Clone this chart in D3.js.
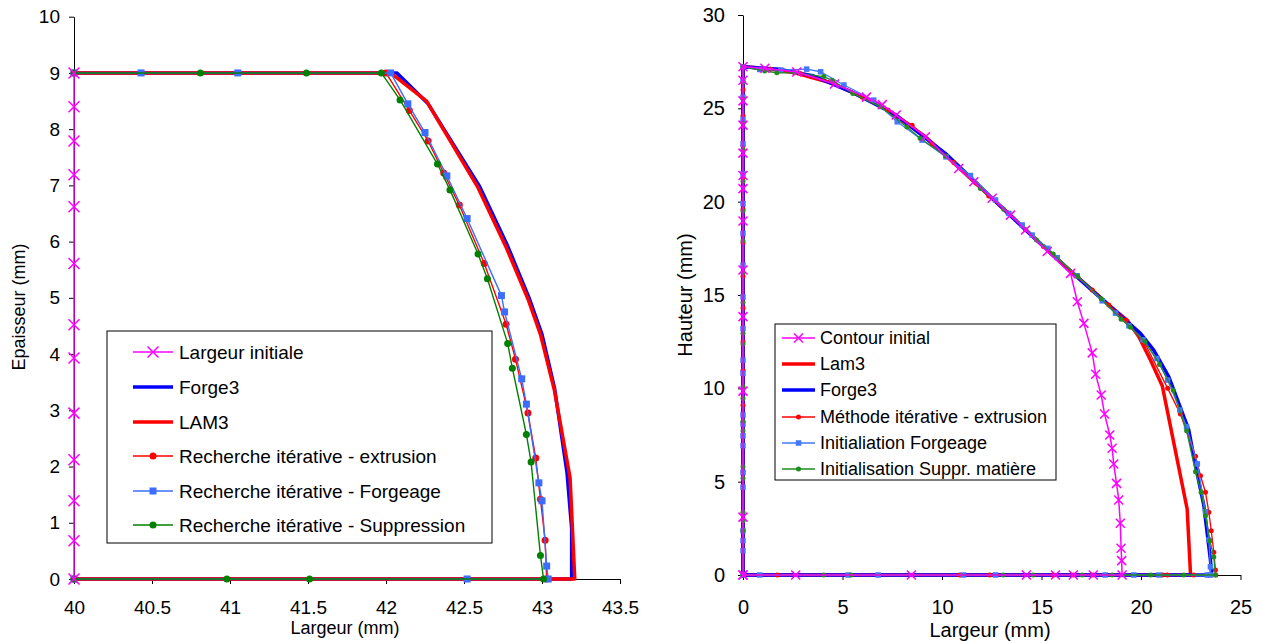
<!DOCTYPE html>
<html>
<head>
<meta charset="utf-8">
<script src="https://cdn.jsdelivr.net/npm/d3@7"></script>
<style>
  body { margin: 0; background: #fff; }
  svg { display: block; }
  text { font-family: "Liberation Sans", Arial, sans-serif; fill: #000; }
</style>
</head>
<body>
<script>
// ---------- left chart : Epaisseur vs Largeur ----------
const leftXTicks = [40, 40.5, 41, 41.5, 42, 42.5, 43, 43.5];
const leftYTicks = [0, 1, 2, 3, 4, 5, 6, 7, 8, 9, 10];

const leftInitial = [[40, 0], [40, 0.68], [40, 1.39], [40, 2.12], [40, 2.95], [40, 3.93], [40, 4.52],
  [40, 5.61], [40, 6.62], [40, 7.19], [40, 7.79], [40, 8.4], [40, 9]];

const leftForge3 = [[40, 9], [42.07, 9], [42.27, 8.45], [42.6, 6.98], [42.78, 5.92], [42.92, 4.98],
  [43.0, 4.35], [43.08, 3.4], [43.16, 1.9], [43.19, 0.9], [43.19, 0], [40, 0]];

const leftLam3 = [[40, 9], [42.03, 9], [42.26, 8.5], [42.59, 6.96], [42.77, 5.9], [42.91, 4.98],
  [42.99, 4.35], [43.08, 3.35], [43.18, 1.8], [43.21, 0], [40, 0]];

const leftExtrusion = [[40, 9], [42.0, 9], [42.15, 8.33], [42.27, 7.79],
  [42.37, 7.22], [42.47, 6.65], [42.63, 5.61], [42.77, 4.53], [42.83, 3.91], [42.91, 2.95],
  [42.96, 2.15], [42.99, 1.42], [43.02, 0.69], [43.03, 0], [40, 0]];

const leftForgeage = [[40, 9], [40.43, 9], [41.05, 9], [42.03, 9], [42.14, 8.45], [42.25, 7.94],
  [42.39, 7.17], [42.52, 6.41], [42.74, 5.04], [42.76, 4.75], [42.87, 3.56], [42.9, 3.11],
  [42.98, 1.71], [43.0, 1.39], [43.03, 0.23], [43.04, 0], [42.52, 0], [40, 0]];

const leftSuppression = [[40, 9], [40.81, 9], [41.49, 9], [41.97, 9], [42.09, 8.52], [42.33, 7.38],
  [42.41, 6.92], [42.59, 5.78], [42.65, 5.34], [42.78, 4.19], [42.81, 3.75], [42.9, 2.57],
  [42.93, 2.08], [42.99, 0.42], [43.01, 0], [41.51, 0], [40.98, 0], [40, 0]];

const leftNames = ["Largeur initiale", "Forge3", "LAM3", "Recherche itérative - extrusion",
  "Recherche itérative - Forgeage", "Recherche itérative - Suppression"];

// ---------- right chart : Hauteur vs Largeur ----------
const rightXTicks = [0, 5, 10, 15, 20, 25];
const rightYTicks = [0, 5, 10, 15, 20, 25, 30];

const rightInitial = [[0, 0], [0, 3.1], [0, 9.85], [0, 13.84], [0, 16.34], [0, 18.96], [0, 20.7],
  [0, 21.4], [0, 22.6], [0, 24.1], [0, 25.4], [0, 26.5], [0, 27.23],
  [1.1, 27.15], [2.7, 26.95], [4.6, 26.3], [6.2, 25.6], [7.0, 25.2], [7.7, 24.64], [9.17, 23.48],
  [10.84, 21.78], [11.6, 21.07], [12.52, 20.18], [13.44, 19.28], [14.2, 18.48], [15.29, 17.33],
  [16.46, 16.16], [16.8, 14.64], [17.13, 13.48], [17.55, 11.9], [17.72, 10.75], [18.0, 9.64],
  [18.17, 8.62], [18.43, 7.5], [18.55, 6.79], [18.63, 5.95], [18.77, 4.91], [18.88, 4.02],
  [18.96, 2.77], [19.0, 1.43], [19.03, 0.77], [19.05, 0],
  [17.6, 0], [16.6, 0], [15.7, 0], [14.24, 0], [8.46, 0], [2.65, 0], [0, 0]];

const rightLam3 = [[0, 0], [0, 27.23], [1.1, 27.14], [2.6, 26.9], [4.5, 26.34], [6.85, 25.2],
  [9.17, 23.48], [11.6, 21.07], [13.44, 19.28], [15.29, 17.41], [17.55, 15.27], [18.38, 14.46],
  [19.3, 13.66], [19.89, 12.76], [20.48, 11.5], [21.07, 10.13], [22.32, 3.53], [22.49, 0], [0, 0]];

const rightForge3 = [[0, 0], [0, 27.23], [1.8, 27.1], [3.5, 26.75], [5.5, 25.85], [7.7, 24.64],
  [10.26, 22.5], [12.52, 20.18], [14.2, 18.48], [16.54, 16.19], [18.38, 14.46], [19.97, 12.95],
  [20.64, 12.05], [21.4, 10.62], [22.4, 7.77], [22.74, 5.85], [23.16, 3.71], [23.49, 0.8],
  [23.55, 0], [0, 0]];

const rightExtrusion = [[0, 0], [0, 5.53], [0, 9.1], [0, 10.95], [0, 12.5], [0, 14.3], [0, 16.0],
  [0, 17.8], [0, 19.6], [0, 21.3], [0, 23.0], [0, 24.6], [0, 26.0], [0, 27.23],
  [1.38, 27.1], [2.9, 26.85], [4.52, 26.4], [6.0, 25.6], [7.3, 24.9], [8.5, 24.1], [9.5, 23.1],
  [10.6, 22.1], [11.7, 21.0], [12.35, 20.3], [13.3, 19.4], [14.2, 18.5], [15.1, 17.6],
  [16.54, 16.19], [17.55, 15.27], [18.38, 14.46], [19.25, 13.63], [20.2, 12.4], [21.34, 10.0],
  [21.98, 8.62], [22.74, 6.36], [22.99, 5.32], [23.24, 4.43], [23.41, 3.36], [23.53, 2.37],
  [23.66, 1.22], [23.74, 0.27], [23.76, 0],
  [22.65, 0], [21.32, 0], [21.07, 0], [17.6, 0], [16.6, 0], [15.6, 0], [12.4, 0], [10.9, 0],
  [1.73, 0], [0, 0]];

const rightForgeage = [[0, 0], [0, 1.3], [0, 1.84], [0, 2.37], [0, 4.7], [0, 5.5], [0, 6.93],
  [0, 7.46], [0, 8.09], [0, 8.57], [0, 10.8], [0, 11.51], [0, 13.2], [0, 14.9], [0, 16.6],
  [0, 18.3], [0, 19.9], [0, 21.5], [0, 23.1], [0, 24.4], [0, 25.6], [0, 26.5], [0, 27.23],
  [0.84, 27.08], [1.9, 27.05], [3.2, 27.1], [3.9, 26.96], [5.07, 26.25], [6.57, 25.44],
  [7.75, 24.28], [9.0, 23.3], [10.2, 22.4], [11.43, 21.4], [12.69, 20.09], [13.36, 19.37],
  [14.03, 18.75], [14.53, 18.21], [15.32, 17.5], [15.79, 17.0], [16.79, 16.03], [18.05, 14.69],
  [18.72, 14.03], [19.39, 13.35], [20.1, 12.6], [20.8, 11.6], [21.34, 10.44], [21.95, 8.84],
  [22.29, 7.95], [22.83, 5.95], [23.24, 3.39], [23.41, 1.87], [23.49, 0.44], [23.5, 0],
  [23.33, 0], [20.9, 0], [19.64, 0], [18.2, 0], [12.69, 0], [11.07, 0], [6.79, 0], [5.28, 0],
  [0.84, 0], [0, 0]];

const rightSuppression = [[0, 0], [0, 2.37], [0, 2.91], [0, 3.36], [0, 5.18], [0, 5.8], [0, 7.73],
  [0, 8.24], [0, 9.46], [0, 10.08], [0, 12.37], [0, 12.95], [0, 14.6], [0, 16.2], [0, 17.9],
  [0, 19.5], [0, 21.1], [0, 22.8], [0, 24.2], [0, 25.5], [0, 26.4], [0, 27.23],
  [1.09, 27.0], [1.7, 26.9], [2.6, 26.9], [4.06, 26.7], [4.48, 26.5], [5.52, 25.8], [6.9, 25.08],
  [8.24, 24.0], [8.9, 23.4], [10.18, 22.45], [11.93, 20.7], [13.1, 19.6], [14.75, 17.95],
  [15.59, 17.2], [16.82, 16.0], [18.0, 14.8], [19.0, 13.7], [19.47, 13.27], [20.2, 12.5],
  [20.93, 11.28], [21.62, 9.9], [22.29, 7.73], [22.74, 5.53], [23.02, 4.43], [23.24, 3.18],
  [23.46, 1.84], [23.66, 0.96], [23.74, 0],
  [22.15, 0], [20.48, 0], [18.55, 0], [17.05, 0], [14.59, 0], [13.08, 0], [5.44, 0], [4.06, 0],
  [0, 0]];

const rightNames = ["Contour initial", "Lam3", "Forge3", "Méthode itérative - extrusion",
  "Initialiation Forgeage", "Initialisation Suppr. matière"];

// ---------- drawing ----------
const svg = d3.select("body").append("svg")
  .attr("width", 1261)
  .attr("height", 641);

function drawMarker(g, kind, cx, cy, st) {
  if (kind === "x") {
    const h = st.size / 2;
    g.append("path")
      .attr("d", `M${cx - h},${cy - h}L${cx + h},${cy + h}M${cx - h},${cy + h}L${cx + h},${cy - h}`)
      .attr("stroke", st.color).attr("stroke-width", 1.5).attr("fill", "none");
  } else if (kind === "dot") {
    g.append("circle").attr("cx", cx).attr("cy", cy).attr("r", st.size / 2).attr("fill", st.color);
  } else if (kind === "square") {
    g.append("rect").attr("x", cx - st.size / 2).attr("y", cy - st.size / 2)
      .attr("width", st.size).attr("height", st.size).attr("fill", st.color);
  }
}

function drawPanel(p) {
  const x = d3.scaleLinear().domain(p.xDomain).range(p.xRange);
  const y = d3.scaleLinear().domain(p.yDomain).range(p.yRange);
  const g = svg.append("g");

  // axes (left + bottom only, excel style)
  const xAxis = g.append("g")
    .attr("transform", `translate(0,${p.yRange[0]})`)
    .call(d3.axisBottom(x).tickValues(p.xTicks).tickFormat(d => String(d))
      .tickSizeInner(5).tickSizeOuter(0).tickPadding(p.xPad));
  const yAxis = g.append("g")
    .attr("transform", `translate(${p.xRange[0]},0)`)
    .call(d3.axisLeft(y).tickValues(p.yTicks).tickFormat(d => String(d))
      .tickSizeInner(5).tickSizeOuter(0).tickPadding(p.yPad));
  [xAxis, yAxis].forEach(a => {
    a.select(".domain").attr("stroke", "#000");
    a.selectAll(".tick line").attr("stroke", "#000");
    a.selectAll(".tick text").attr("fill", "#000")
      .style("font-size", p.tickFont + "px")
      .style("font-family", '"Liberation Sans", Arial, sans-serif');
  });

  // axis titles
  g.append("text")
    .attr("x", p.xTitlePos[0]).attr("y", p.xTitlePos[1])
    .attr("text-anchor", "middle")
    .style("font-size", p.titleFont + "px")
    .text(p.xTitle);
  g.append("text")
    .attr("transform", `translate(${p.yTitlePos[0]},${p.yTitlePos[1]}) rotate(-90)`)
    .attr("text-anchor", "middle")
    .style("font-size", p.titleFont + "px")
    .text(p.yTitle);

  // series
  const line = d3.line().x(d => x(d[0])).y(d => y(d[1]));
  p.series.forEach(s => {
    const sg = g.append("g");
    sg.append("path")
      .datum(s.data)
      .attr("d", line)
      .attr("fill", "none")
      .attr("stroke", s.color)
      .attr("stroke-width", s.width)
      .attr("stroke-linejoin", "round");
    if (s.marker) {
      s.data.forEach(d => drawMarker(sg, s.marker, x(d[0]), y(d[1]), s));
    }
  });

  // legend
  const L = p.legend;
  const lg = g.append("g");
  lg.append("rect")
    .attr("x", L.x).attr("y", L.y).attr("width", L.w).attr("height", L.h)
    .attr("fill", "#fff").attr("stroke", "#000").attr("stroke-width", 1);
  L.order.forEach((si, i) => {
    const s = p.series[si];
    const cy = L.rows[i];
    lg.append("line")
      .attr("x1", L.lineX[0]).attr("x2", L.lineX[1]).attr("y1", cy).attr("y2", cy)
      .attr("stroke", s.color).attr("stroke-width", s.width);
    if (s.marker) drawMarker(lg, s.marker, (L.lineX[0] + L.lineX[1]) / 2, cy, s);
    lg.append("text")
      .attr("x", L.textX).attr("y", cy + L.font * 0.36)
      .style("font-size", L.font + "px")
      .text(L.names[i]);
  });
}

drawPanel({
  xDomain: [40, 43.5], xRange: [74, 620],
  yDomain: [0, 10], yRange: [579, 16.7],
  xTicks: leftXTicks, yTicks: leftYTicks,
  xPad: 17, yPad: 9, tickFont: 19, titleFont: 18,
  xTitle: "Largeur (mm)", xTitlePos: [345, 634],
  yTitle: "Epaisseur (mm)", yTitlePos: [25, 307],
  series: [
    { data: leftForge3, color: "#0000ff", width: 3.5, marker: null },
    { data: leftLam3, color: "#ff0000", width: 3.5, marker: null },
    { data: leftExtrusion, color: "#ff0000", width: 1.4, marker: "dot", size: 7 },
    { data: leftForgeage, color: "#3d6dff", width: 1.4, marker: "square", size: 7 },
    { data: leftSuppression, color: "#008000", width: 1.4, marker: "dot", size: 7 },
    { data: leftInitial, color: "#ff00ff", width: 1.5, marker: "x", size: 11 }
  ],
  legend: {
    x: 107, y: 331, w: 385, h: 212,
    rows: [352, 387, 422, 456, 491, 525],
    lineX: [133, 173], textX: 179, font: 19,
    order: [5, 0, 1, 2, 3, 4], names: leftNames
  }
});

drawPanel({
  xDomain: [0, 25], xRange: [743, 1240.5],
  yDomain: [0, 30], yRange: [575, 15],
  xTicks: rightXTicks, yTicks: rightYTicks,
  xPad: 20, yPad: 13, tickFont: 20, titleFont: 20,
  xTitle: "Largeur (mm)", xTitlePos: [990, 637],
  yTitle: "Hauteur (mm)", yTitlePos: [692, 295],
  series: [
    { data: rightLam3, color: "#ff0000", width: 3.5, marker: null },
    { data: rightForge3, color: "#0000ff", width: 3.5, marker: null },
    { data: rightExtrusion, color: "#ff0000", width: 1.3, marker: "dot", size: 5 },
    { data: rightForgeage, color: "#4477ff", width: 1.3, marker: "square", size: 5.5 },
    { data: rightSuppression, color: "#1e8c1e", width: 1.3, marker: "dot", size: 5 },
    { data: rightInitial, color: "#ff00ff", width: 1.5, marker: "x", size: 9 }
  ],
  legend: {
    x: 775, y: 324, w: 281, h: 156,
    rows: [338, 364, 390, 417, 443, 469],
    lineX: [782, 815], textX: 820, font: 18,
    order: [5, 0, 1, 2, 3, 4], names: rightNames
  }
});
</script>
</body>
</html>
